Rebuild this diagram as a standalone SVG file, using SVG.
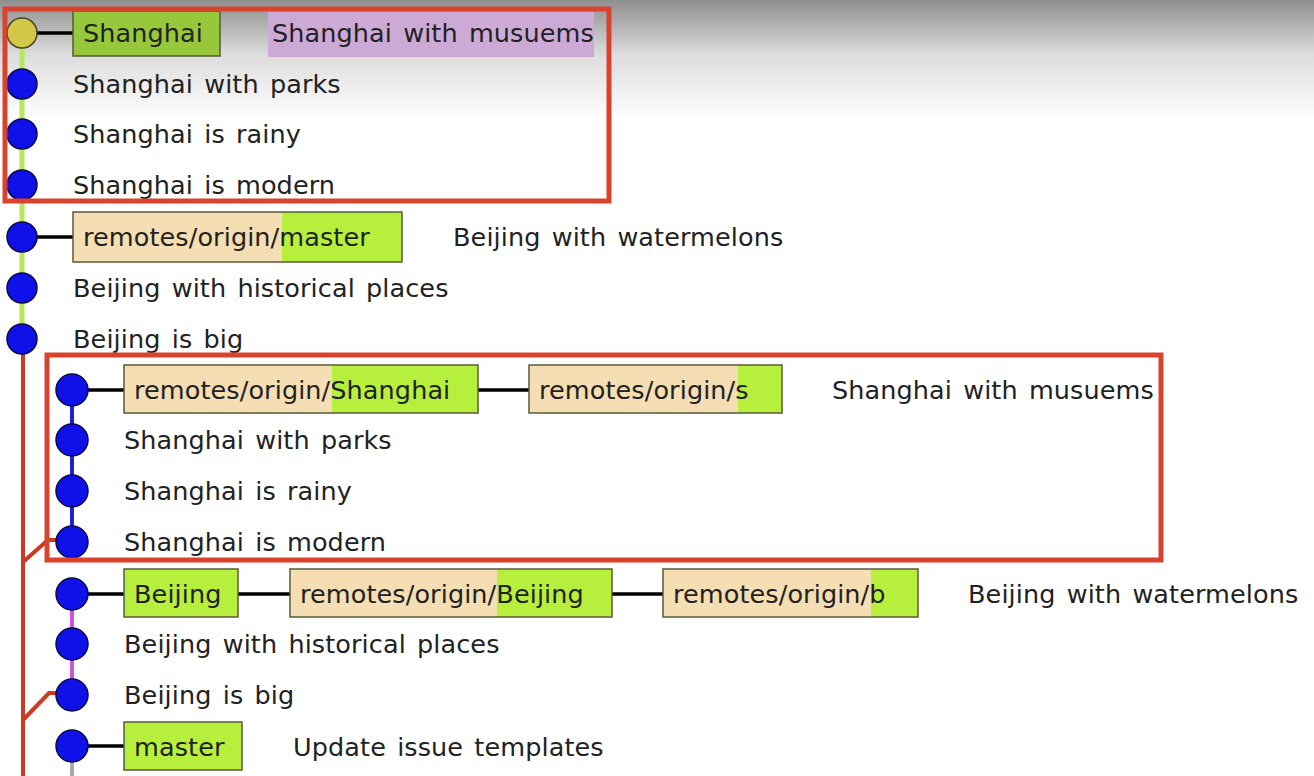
<svg xmlns="http://www.w3.org/2000/svg" width="1314" height="776" viewBox="0 0 1314 776">
<defs>
<linearGradient id="topfade" x1="0" y1="0" x2="0" y2="1">
<stop offset="0" stop-color="#8e8e8e"/>
<stop offset="0.45" stop-color="#dcdcdc"/>
<stop offset="1" stop-color="#ffffff"/>
</linearGradient>
<style>
text{font-family:"DejaVu Sans","Liberation Sans",sans-serif;font-size:25.5px;fill:#222;letter-spacing:0.1px;word-spacing:3px}
.box{stroke:#5a5a3a;stroke-width:1.5;fill:none}
.tan{fill:#f5deb3}
.grn{fill:#b6f03c}
.dot{fill:#1010e8;stroke:#0a0a50;stroke-width:1.5}
.lnk{stroke:#000;stroke-width:3.5}
.hl{fill:none;stroke:#d9432e;stroke-width:5}
</style>
</defs>
<rect x="0" y="0" width="1314" height="776" fill="#fff"/>
<rect x="0" y="0" width="1314" height="120" fill="url(#topfade)"/>

<g id="connectors">
<line x1="22" y1="33" x2="22" y2="339" stroke="#b6e85a" stroke-width="5"/>
<line x1="23" y1="339" x2="23" y2="776" stroke="#cc3a22" stroke-width="4"/>
<polyline points="23,562 48,540 60,540" fill="none" stroke="#cc3a22" stroke-width="4"/>
<polyline points="23,720 49,693 58,693" fill="none" stroke="#cc3a22" stroke-width="4"/>
<line x1="72" y1="390" x2="72" y2="542" stroke="#2020d0" stroke-width="4"/>
<line x1="72" y1="594" x2="72" y2="695" stroke="#cc55dd" stroke-width="4"/>
<line x1="72" y1="746" x2="72" y2="776" stroke="#aaaaaa" stroke-width="4"/>
<line class="lnk" x1="22" y1="33" x2="73" y2="33"/>
<line class="lnk" x1="22" y1="237" x2="73" y2="237"/>
<line class="lnk" x1="72" y1="390" x2="124" y2="390"/>
<line class="lnk" x1="478" y1="390" x2="529" y2="390"/>
<line class="lnk" x1="72" y1="594" x2="124" y2="594"/>
<line class="lnk" x1="238" y1="594" x2="290" y2="594"/>
<line class="lnk" x1="612" y1="594" x2="663" y2="594"/>
<line class="lnk" x1="72" y1="746" x2="124" y2="746"/>
</g>

<g id="c1">
<circle cx="22" cy="33" r="15" fill="#d4c84a" stroke="#4a4420" stroke-width="1.5"/>
<rect x="73" y="11" width="147" height="45" fill="#97c83c"/>
<rect class="box" x="73" y="11" width="147" height="45"/>
<text x="83" y="42">Shanghai</text>
<rect x="268" y="12" width="326" height="45" fill="#cdaad6"/>
<text x="272" y="42">Shanghai with musuems</text>
</g>
<g id="c2"><circle class="dot" cx="22" cy="84" r="15"/><text x="73" y="93">Shanghai with parks</text></g>
<g id="c3"><circle class="dot" cx="22" cy="134" r="15"/><text x="73" y="143">Shanghai is rainy</text></g>
<g id="c4"><circle class="dot" cx="22" cy="185" r="15"/><text x="73" y="194">Shanghai is modern</text></g>
<g id="c5">
<circle class="dot" cx="22" cy="237" r="15"/>
<rect class="tan" x="73" y="212" width="329" height="50"/>
<rect class="grn" x="282" y="212" width="120" height="50"/>
<rect class="box" x="73" y="212" width="329" height="50"/>
<text x="83" y="246">remotes/origin/master</text>
<text x="453" y="246">Beijing with watermelons</text>
</g>
<g id="c6"><circle class="dot" cx="22" cy="288" r="15"/><text x="73" y="297">Beijing with historical places</text></g>
<g id="c7"><circle class="dot" cx="22" cy="339" r="15"/><text x="73" y="348">Beijing is big</text></g>
<g id="c8">
<circle class="dot" cx="72" cy="390" r="16"/>
<rect class="tan" x="124" y="365" width="354" height="48"/>
<rect class="grn" x="332" y="365" width="146" height="48"/>
<rect class="box" x="124" y="365" width="354" height="48"/>
<text x="134" y="399">remotes/origin/Shanghai</text>
<rect class="tan" x="529" y="365" width="253" height="48"/>
<rect class="grn" x="738" y="365" width="44" height="48"/>
<rect class="box" x="529" y="365" width="253" height="48"/>
<text x="539" y="399">remotes/origin/s</text>
<text x="832" y="399">Shanghai with musuems</text>
</g>
<g id="c9"><circle class="dot" cx="72" cy="440" r="16"/><text x="124" y="449">Shanghai with parks</text></g>
<g id="c10"><circle class="dot" cx="72" cy="491" r="16"/><text x="124" y="500">Shanghai is rainy</text></g>
<g id="c11"><circle class="dot" cx="72" cy="542" r="16"/><text x="124" y="551">Shanghai is modern</text></g>
<g id="c12">
<circle class="dot" cx="72" cy="594" r="16"/>
<rect class="grn" x="124" y="569" width="114" height="48"/>
<rect class="box" x="124" y="569" width="114" height="48"/>
<text x="134" y="603">Beijing</text>
<rect class="tan" x="290" y="569" width="322" height="48"/>
<rect class="grn" x="497" y="569" width="115" height="48"/>
<rect class="box" x="290" y="569" width="322" height="48"/>
<text x="300" y="603">remotes/origin/Beijing</text>
<rect class="tan" x="663" y="569" width="255" height="48"/>
<rect class="grn" x="871" y="569" width="47" height="48"/>
<rect class="box" x="663" y="569" width="255" height="48"/>
<text x="673" y="603">remotes/origin/b</text>
<text x="968" y="603">Beijing with watermelons</text>
</g>
<g id="c13"><circle class="dot" cx="72" cy="644" r="16"/><text x="124" y="653">Beijing with historical places</text></g>
<g id="c14"><circle class="dot" cx="72" cy="695" r="16"/><text x="124" y="704">Beijing is big</text></g>
<g id="c15">
<circle class="dot" cx="72" cy="746" r="16"/>
<rect class="grn" x="124" y="722" width="118" height="48"/>
<rect class="box" x="124" y="722" width="118" height="48"/>
<text x="134" y="756">master</text>
<text x="293" y="756">Update issue templates</text>
</g>

<g id="highlights">
<rect class="hl" x="5" y="9" width="604" height="192"/>
<rect class="hl" x="47" y="355" width="1114" height="205"/>
</g>
</svg>
